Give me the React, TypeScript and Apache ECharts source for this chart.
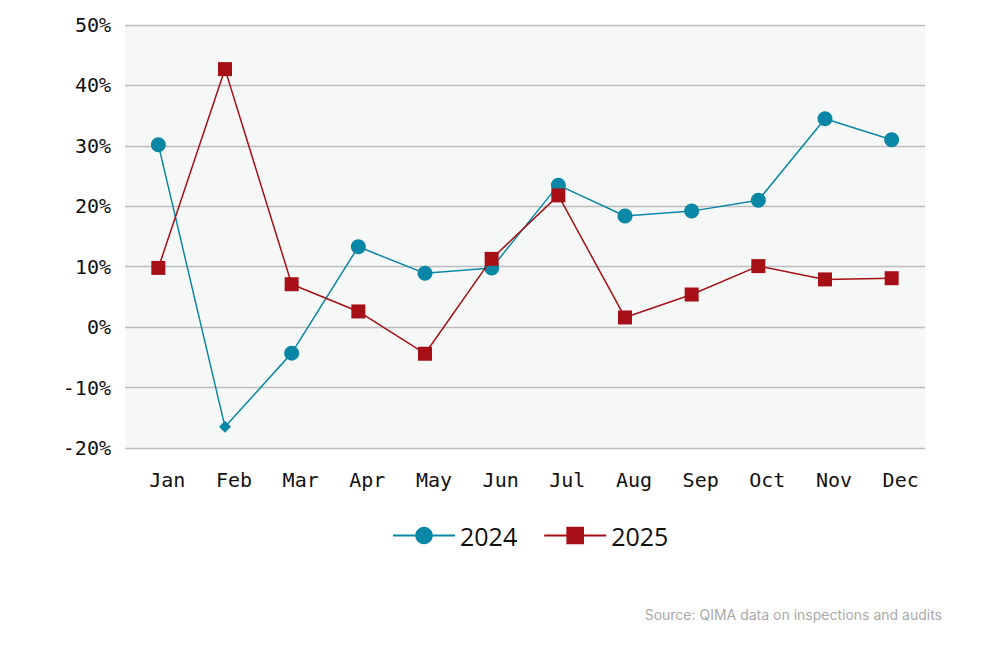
import React, { useEffect, useRef } from "react";
import * as echarts from "echarts";

const categories = ["Jan", "Feb", "Mar", "Apr", "May", "Jun", "Jul", "Aug", "Sep", "Oct", "Nov", "Dec"];
const values2024 = [30.2, -16.5, -4.3, 13.3, 8.9, 9.8, 23.5, 18.4, 19.2, 21.0, 34.5, 31.0];
const values2025 = [9.8, 42.7, 7.1, 2.6, -4.4, 11.3, 21.8, 1.6, 5.4, 10.1, 7.9, 8.1];
const yTicks = [-20, -10, 0, 10, 20, 30, 40, 50];

const TEAL = "#0a87a5";
const RED = "#a50f15";

export default function App() {
  const ref = useRef<HTMLDivElement>(null);
  useEffect(() => {
    if (!ref.current) return;
    const chart = echarts.init(ref.current, null, { renderer: "svg" });
    chart.setOption({
      animation: false,
      backgroundColor: "#ffffff",
      grid: {
        left: 125,
        right: 75,
        top: 25,
        bottom: 198,
        show: true,
        backgroundColor: "#f6f8f7",
        borderWidth: 0,
      },
      legend: {
        bottom: 93,
        left: 387,
        itemWidth: 62,
        itemHeight: 22,
        itemGap: 26,
        textStyle: { fontFamily: "Open Sans", fontSize: 25, color: "#111" },
        data: ["2024", "2025"],
      },
      xAxis: {
        type: "category",
        data: categories,
        boundaryGap: true,
        axisLine: { show: false },
        axisTick: { show: false },
        axisLabel: {
          fontFamily: "DejaVu Sans Mono",
          fontSize: 20,
          color: "#111",
          margin: 22,
          padding: [0, 0, 0, 18],
        },
      },
      yAxis: {
        type: "value",
        min: yTicks[0],
        max: yTicks[yTicks.length - 1],
        interval: 10,
        axisLine: { show: false },
        axisTick: { show: false },
        axisLabel: {
          fontFamily: "DejaVu Sans Mono",
          fontSize: 20,
          color: "#111",
          margin: 14,
          formatter: (v: number) => v + "%",
        },
        splitLine: { lineStyle: { color: "#bdbdbd", width: 1.3 } },
      },
      series: [
        {
          name: "2024",
          type: "line",
          data: values2024.map((v, i) =>
            i === 1 ? { value: v, symbol: "diamond", symbolSize: 12 } : v
          ),
          symbol: "circle",
          symbolSize: 15,
          lineStyle: { color: TEAL, width: 1.5 },
          itemStyle: { color: TEAL },
          z: 2,
        },
        {
          name: "2025",
          type: "line",
          data: values2025,
          symbol: "rect",
          symbolSize: 14,
          lineStyle: { color: RED, width: 1.5 },
          itemStyle: { color: RED },
          z: 3,
        },
      ],
      graphic: [
        {
          type: "text",
          right: 58,
          top: 607,
          style: {
            text: "Source: QIMA data on inspections and audits",
            fontFamily: "Inter",
            fontSize: 14,
            fill: "#aaaaaa",
          },
        },
      ],
    });
    return () => chart.dispose();
  }, []);
  return <div ref={ref} style={{ width: 1000, height: 646, margin: -8 }} />;
}
